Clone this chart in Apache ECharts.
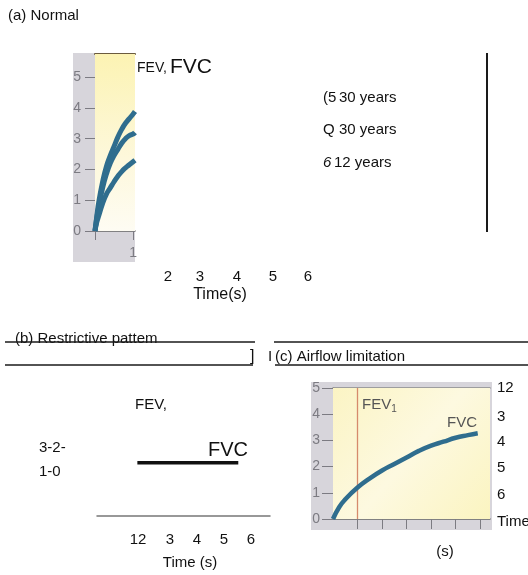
<!DOCTYPE html>
<html>
<head>
<meta charset="utf-8">
<script src="https://cdn.jsdelivr.net/npm/echarts@6/dist/echarts.min.js"></script>
<style>
  html, body { margin: 0; padding: 0; background: #fff; }
  #chart { width: 528px; height: 575px; }
</style>
</head>
<body>
<div id="chart"></div>
<script>
// Spirometry volume–time traces (litres vs seconds)

// (a) Normal: three forced expirations
const normalTime   = [0, 0.05, 0.1, 0.2, 0.3, 0.4, 0.5, 0.6, 0.7, 0.8, 0.9, 1.0, 1.05];
const normalUpper  = [0, 0.5, 0.95, 1.6, 2.1, 2.45, 2.75, 3.05, 3.3, 3.5, 3.65, 3.8, 3.88];
const normalMiddle = [0, 0.45, 0.8, 1.4, 1.85, 2.2, 2.45, 2.65, 2.85, 3.0, 3.1, 3.15, 3.2];
const normalLower  = [0, 0.3, 0.5, 0.9, 1.2, 1.4, 1.6, 1.78, 1.93, 2.05, 2.15, 2.25, 2.3];
const normalLegend = [['(5', '30 years'], ['Q', '30 years'], ['6', '12 years']];
const normalTimeLabels = ['2', '3', '4', '5', '6'];

// (b) Restrictive pattern
const restrictiveTime   = [1.4, 4.9];
const restrictiveVolume = [2.05, 2.05];
const restrictiveVolumeLabels = ['3-2-', '1-0'];
const restrictiveTimeLabels = ['12', '3', '4', '5', '6'];

// (c) Airflow limitation
const airflowTime   = [0, 0.25, 0.5, 1, 1.5, 2, 2.5, 3, 3.5, 4, 4.5, 5, 5.5, 5.9];
const airflowVolume = [0, 0.45, 0.75, 1.2, 1.55, 1.85, 2.1, 2.35, 2.6, 2.8, 2.95, 3.1, 3.2, 3.27];
const airflowSideLabels = ['12', '3', '4', '5', '6', 'Time'];
const fev1Time = 1;

const FONT = "'Liberation Sans', Arial, sans-serif";
const TRACE = '#2f6d8e';
const PANEL_GREY = '#d7d5db';
const TICK_GREY = '#7c7b82';

const pairs = (xs, ys) => xs.map((x, i) => [x, ys[i]]);

function txt(text, x, y, size, opts) {
  opts = opts || {};
  return {
    type: 'text', x: x, y: y, z: 20, silent: true,
    style: {
      text: text,
      font: (opts.italic ? 'italic ' : '') + size + 'px ' + FONT,
      fill: opts.color || '#111',
      textAlign: opts.align || 'left',
      textVerticalAlign: 'middle',
      rich: opts.rich
    }
  };
}
function rule(x1, y1, x2, y2, w, color) {
  return {
    type: 'line', z: 20, silent: true,
    shape: { x1: x1, y1: y1, x2: x2, y2: y2 },
    style: { stroke: color || '#1a1a1a', lineWidth: w || 1.5 }
  };
}

const yellowFill = {
  type: 'linear', x: 0, y: 0, x2: 0, y2: 1,
  colorStops: [{ offset: 0, color: '#fcf3b3' }, { offset: 0.6, color: '#fdf8dc' }, { offset: 1, color: '#fefcf3' }]
};
const yellowFillC = {
  type: 'linear', x: 0, y: 0, x2: 1, y2: 1,
  colorStops: [{ offset: 0, color: '#fbf4c4' }, { offset: 0.5, color: '#fdf9e0' }, { offset: 1, color: '#fbf4c0' }]
};

const graphics = [
  // grey mounts behind the two traced panels
  { type: 'rect', z: -10, silent: true, shape: { x: 73, y: 53, width: 62, height: 209 }, style: { fill: PANEL_GREY } },
  { type: 'rect', z: -10, silent: true, shape: { x: 311, y: 382, width: 181, height: 148 }, style: { fill: PANEL_GREY } },

  txt('(a) Normal', 8, 16, 15),
  txt('FEV,', 137, 68, 14),
  txt('FVC', 170, 67, 21),
  rule(487, 53, 487, 232, 2),
  txt('Time(s)', 220, 295, 16, { align: 'center' }),

  txt('(b) Restrictive pattem', 15, 339, 15),
  rule(5, 342, 255, 342), rule(274, 342, 528, 342),
  rule(5, 365, 253, 365), rule(275, 365, 528, 365),
  txt(']', 250, 357, 16),
  txt('I', 268, 357, 15),
  txt('(c) Airflow limitation', 275, 357, 15),
  txt('FEV,', 135, 405, 15),
  txt('FVC', 208, 450, 20),
  txt('Time (s)', 190, 563, 15, { align: 'center' }),

  txt('{a|FEV}{b|1}', 362, 405, 15, {
    rich: {
      a: { font: '15px ' + FONT, fill: '#555' },
      b: { font: '10px ' + FONT, fill: '#555', padding: [8, 0, 0, 0] }
    }
  }),
  txt('FVC', 447, 423, 15, { color: '#555' }),
  txt('(s)', 445, 552, 15, { align: 'center' })
];

// legend lines of panel (a)
const legendY = [98, 130, 163];
const legendValueX = [339, 339, 334];
normalLegend.forEach((row, i) => {
  graphics.push(txt(row[0], 323, legendY[i], 15, { italic: i === 2 }));
  graphics.push(txt(row[1], legendValueX[i], legendY[i], 15));
});
// loose time labels of panel (a)
const normalTimeX = [168, 200, 237, 273, 308];
normalTimeLabels.forEach((t, i) => graphics.push(txt(t, normalTimeX[i], 277, 15, { align: 'center' })));
// loose labels of panel (b)
const restrictiveVolY = [448, 472];
restrictiveVolumeLabels.forEach((t, i) => graphics.push(txt(t, 39, restrictiveVolY[i], 15)));
const restrictiveTimeX = [138, 170, 197, 224, 251];
restrictiveTimeLabels.forEach((t, i) => graphics.push(txt(t, restrictiveTimeX[i], 540, 15, { align: 'center' })));
// side labels of panel (c)
const sideY = [388, 417, 442, 468, 495, 522];
airflowSideLabels.forEach((t, i) => graphics.push(txt(t, 497, sideY[i], 15)));

const greyAxisLabel = { color: TICK_GREY, fontSize: 14, fontFamily: FONT, margin: 14 };

const option = {
  animation: false,
  backgroundColor: '#ffffff',
  textStyle: { fontFamily: FONT },
  grid: [
    { left: 95, top: 54, width: 40, height: 177, show: true, backgroundColor: yellowFill, borderWidth: 0, z: 1 },
    { left: 97, top: 386, width: 173, height: 130, show: false },
    { left: 333, top: 388, width: 157, height: 131, show: true, backgroundColor: yellowFillC, borderWidth: 0, z: 1 }
  ],
  xAxis: [
    { gridIndex: 0, type: 'value', min: 0, max: 1.05,
      axisLine: { lineStyle: { color: '#666', width: 1.5 } },
      axisTick: { customValues: [0, 1], length: 9, lineStyle: { color: TICK_GREY } },
      axisLabel: Object.assign({}, greyAxisLabel, { customValues: [1], margin: 15 }),
      splitLine: { show: false } },
    { gridIndex: 0, type: 'value', position: 'top', min: 0, max: 1.05,
      axisLine: { lineStyle: { color: '#6b5b3e', width: 2 } },
      axisTick: { show: false }, axisLabel: { show: false }, splitLine: { show: false } },
    { gridIndex: 1, type: 'value', min: 0, max: 6,
      axisLine: { lineStyle: { color: '#777', width: 1.5 } },
      axisTick: { show: false }, axisLabel: { show: false }, splitLine: { show: false } },
    { gridIndex: 2, type: 'value', min: 0, max: 6.4,
      axisLine: { lineStyle: { color: '#666', width: 1.5 } },
      axisTick: { customValues: [1, 2, 3, 4, 5, 6], length: 10, lineStyle: { color: TICK_GREY } },
      axisLabel: { show: false }, splitLine: { show: false } },
    { gridIndex: 2, type: 'value', position: 'top', min: 0, max: 6.4,
      axisLine: { lineStyle: { color: '#8a8a8a', width: 1.5 } },
      axisTick: { show: false }, axisLabel: { show: false }, splitLine: { show: false } }
  ],
  yAxis: [
    { gridIndex: 0, type: 'value', min: 0, max: 5.75,
      axisLine: { show: true, lineStyle: { color: '#8a8a8a', width: 1 } },
      axisTick: { show: true, customValues: [0, 1, 2, 3, 4, 5], length: 10, lineStyle: { color: TICK_GREY } },
      axisLabel: Object.assign({}, greyAxisLabel, { customValues: [0, 1, 2, 3, 4, 5] }),
      splitLine: { show: false } },
    { gridIndex: 1, type: 'value', min: 0, max: 5, show: false },
    { gridIndex: 2, type: 'value', min: 0, max: 5, interval: 1,
      axisLine: { show: true, lineStyle: { color: '#8a8a8a', width: 1 } },
      axisTick: { show: true, length: 11, lineStyle: { color: TICK_GREY } },
      axisLabel: Object.assign({}, greyAxisLabel, { margin: 13 }),
      splitLine: { show: false } }
  ],
  series: [
    { name: 'upper trace', type: 'line', xAxisIndex: 0, yAxisIndex: 0, data: pairs(normalTime, normalUpper),
      smooth: true, showSymbol: false, clip: true, lineStyle: { color: TRACE, width: 5 }, z: 5 },
    { name: 'middle trace', type: 'line', xAxisIndex: 0, yAxisIndex: 0, data: pairs(normalTime, normalMiddle),
      smooth: true, showSymbol: false, clip: true, lineStyle: { color: TRACE, width: 5 }, z: 5 },
    { name: 'lower trace', type: 'line', xAxisIndex: 0, yAxisIndex: 0, data: pairs(normalTime, normalLower),
      smooth: true, showSymbol: false, clip: true, lineStyle: { color: TRACE, width: 5 }, z: 5 },
    { name: 'restrictive FVC', type: 'line', xAxisIndex: 2, yAxisIndex: 1, data: pairs(restrictiveTime, restrictiveVolume),
      showSymbol: false, lineStyle: { color: '#111', width: 3.5 }, z: 5 },
    { name: 'airflow limitation', type: 'line', xAxisIndex: 3, yAxisIndex: 2, data: pairs(airflowTime, airflowVolume),
      smooth: true, showSymbol: false, lineStyle: { color: TRACE, width: 4.5 }, z: 5,
      markLine: { silent: true, symbol: 'none', label: { show: false },
        lineStyle: { color: '#d68a6c', width: 1.3, type: 'solid' },
        data: [{ xAxis: fev1Time }] } }
  ],
  graphic: graphics
};

const chart = echarts.init(document.getElementById('chart'), null, { renderer: 'canvas' });
chart.setOption(option);
</script>
</body>
</html>
